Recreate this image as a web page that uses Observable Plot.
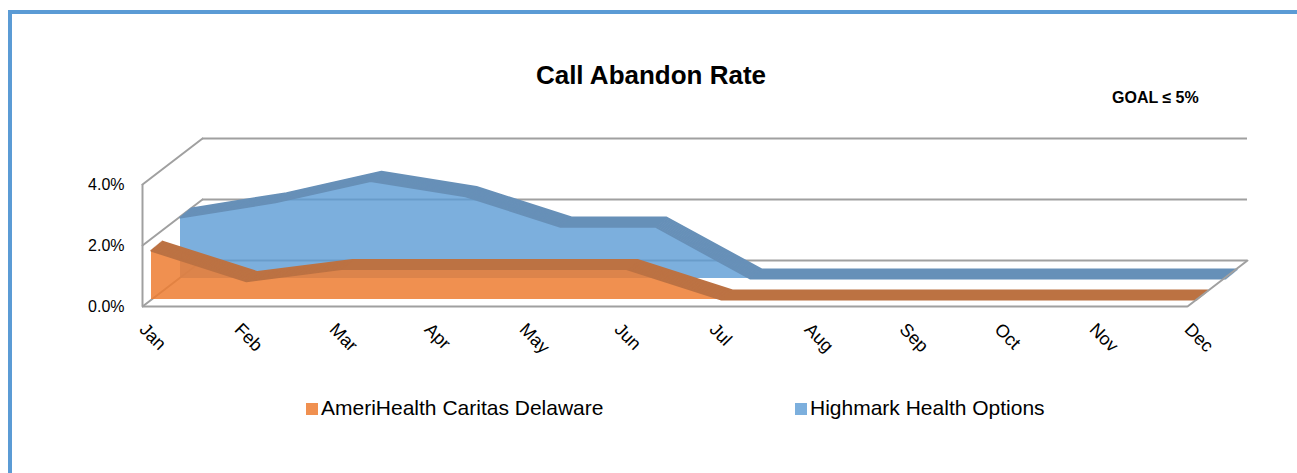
<!DOCTYPE html>
<html>
<head>
<meta charset="utf-8">
<script src="https://cdn.jsdelivr.net/npm/d3@7"></script>
<script src="https://cdn.jsdelivr.net/npm/@observablehq/plot@0.6"></script>
<style>
  body { margin: 0; background: #fff; font-family: Arial, "Liberation Sans", sans-serif; }
  #wrap { position: relative; width: 1297px; height: 473px; overflow: hidden; background: #fff; }
  #chart { position: absolute; left: 0; top: 0; }
  .bt { position: absolute; left: 8px; top: 10px; width: 1289px; height: 4px; background: #5B9BD5; }
  .bl { position: absolute; left: 8px; top: 10px; width: 4px; height: 463px; background: #5B9BD5; }
  #title { position: absolute; left: 0; width: 1302px; top: 62px; text-align: center; font-weight: bold; font-size: 26px; line-height: 26px; color: #000; }
  #goal { position: absolute; left: 1112px; top: 90px; font-weight: bold; font-size: 16px; line-height: 16px; color: #000; white-space: nowrap; }
  .leg { position: absolute; top: 397px; font-size: 21px; line-height: 21px; color: #000; white-space: nowrap; }
  .sw { display: inline-block; width: 12px; height: 12px; margin-right: 3px; vertical-align: 0px; }
</style>
</head>
<body>
<div id="wrap">
  <div id="chart"></div>
  <div class="bt"></div>
  <div class="bl"></div>
  <div id="title">Call Abandon Rate</div>
  <div id="goal">GOAL ≤ 5%</div>
  <div id="legend"></div>
</div>
<script>
// ---- data ----
const months = ["Jan", "Feb", "Mar", "Apr", "May", "Jun", "Jul", "Aug", "Sep", "Oct", "Nov", "Dec"];
const ameriHealth = [0.016, 0.006, 0.010, 0.010, 0.010, 0.010, 0, 0, 0, 0, 0, 0];
const highmark = [0.020, 0.025, 0.032, 0.027, 0.017, 0.017, 0, 0, 0, 0, 0, 0];
const yTicks = [0, 0.02, 0.04];
const seriesNames = ["AmeriHealth Caritas Delaware", "Highmark Health Options"];
const seriesColors = ["#ED7D31", "#5B9BD5"];
const bandColors = ["#BC7243", "#6790B8"];

const rows = months.map((m, i) => ({month: m, a: ameriHealth[i], h: highmark[i]}));

// ---- oblique 3D styling (pixel offsets) ----
const grid = "#A0A0A0";
const wallDepth = [60, -46];
const slabDepth = [11, -9];
const slots = {a: [9, -7], h: [38, -28]};
const lineShape = {draw(context, l) { context.moveTo(0, 0); context.lineTo(0, -l); }};
const depthLen = Math.hypot(wallDepth[0], wallDepth[1]);
const depthAngle = Math.atan2(wallDepth[0], -wallDepth[1]) * 180 / Math.PI;

function slab(key, idx) {
  const [sx, sy] = slots[key];
  const marks = [
    Plot.areaY(rows, {x: "month", y: key, fill: seriesColors[idx], fillOpacity: idx === 0 ? 0.85 : 0.8, dx: sx, dy: sy})
  ];
  const N = 9;
  for (let k = 0; k <= N; k++) {
    marks.push(Plot.line(rows, {x: "month", y: key, stroke: bandColors[idx], strokeWidth: 2.2,
      dx: sx + slabDepth[0] * k / N, dy: sy + slabDepth[1] * k / N}));
  }
  return marks;
}

const chart = Plot.plot({
  width: 1297,
  height: 473,
  marginLeft: 142,
  marginRight: 110,
  marginTop: 153.5,
  marginBottom: 167,
  style: {background: "transparent", fontFamily: "Arial, 'Liberation Sans', sans-serif", fontSize: "16px", color: "#000", overflow: "visible"},
  x: {type: "point", domain: months, padding: 0},
  y: {domain: [0, 0.05]},
  marks: [
    // back wall gridlines
    Plot.ruleY(yTicks, {x1: () => months[0], x2: () => months[months.length - 1], dx: wallDepth[0], dy: wallDepth[1], stroke: grid, strokeWidth: 2}),
    // left wall diagonals
    Plot.vector(yTicks, {x: () => months[0], y: d => d, length: depthLen, rotate: depthAngle, anchor: "start", shape: lineShape, stroke: grid, strokeWidth: 2}),
    // left wall front edge
    Plot.ruleX([months[0]], {y1: 0, y2: yTicks[yTicks.length - 1], stroke: grid, strokeWidth: 2}),
    // back series first, then front series
    ...slab("h", 1),
    ...slab("a", 0),
    // floor front edge and right edge
    Plot.ruleY([0], {x1: () => months[0], x2: () => months[months.length - 1], stroke: grid, strokeWidth: 2}),
    Plot.vector([0], {x: () => months[months.length - 1], y: d => d, length: depthLen, rotate: depthAngle, anchor: "start", shape: lineShape, stroke: grid, strokeWidth: 2}),
    Plot.axisY(yTicks, {anchor: "left", tickSize: 0, tickPadding: 18, tickFormat: d3.format(".1%"), label: null, fontSize: 16}),
    Plot.axisX(months, {anchor: "bottom", tickSize: 0, tickPadding: 20, tickRotate: 45, label: null, fontSize: 18})
  ]
});
document.getElementById("chart").appendChild(chart);

// legend
const legend = document.getElementById("legend");
const legX = [306, 795];
seriesNames.forEach((name, i) => {
  const d = document.createElement("div");
  d.className = "leg";
  d.style.left = legX[i] + "px";
  const sw = document.createElement("span");
  sw.className = "sw";
  sw.style.background = seriesColors[i];
  sw.style.opacity = i === 0 ? 0.85 : 0.8;
  d.appendChild(sw);
  d.appendChild(document.createTextNode(name));
  legend.appendChild(d);
});
</script>
</body>
</html>
